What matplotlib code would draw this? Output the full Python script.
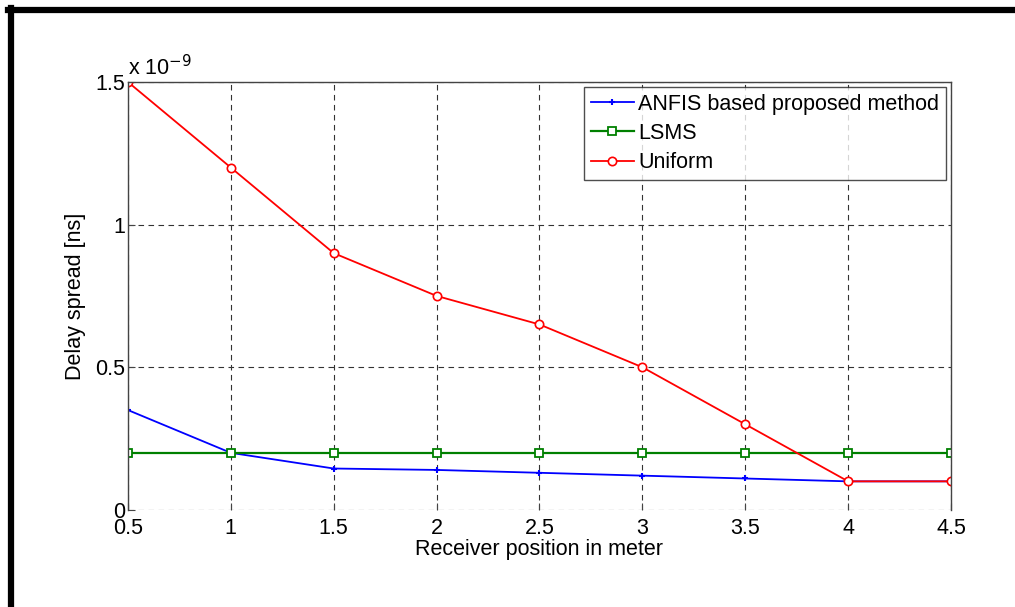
import numpy as np
import matplotlib
matplotlib.use('Agg')
import matplotlib.pyplot as plt
from matplotlib.lines import Line2D

plt.rcParams['font.family'] = ['Liberation Sans', 'DejaVu Sans']

# receiver positions (m) and delay spread values (x 1e-9)
positions = [0.5, 1, 1.5, 2, 2.5, 3, 3.5, 4, 4.5]
anfis = [0.35, 0.2, 0.145, 0.14, 0.13, 0.12, 0.11, 0.1, 0.1]
lsms = [0.2, 0.2, 0.2, 0.2, 0.2, 0.2, 0.2, 0.2, 0.2]
uniform = [1.5, 1.2, 0.9, 0.75, 0.65, 0.5, 0.3, 0.1, 0.1]

xticks = [0.5, 1, 1.5, 2, 2.5, 3, 3.5, 4, 4.5]
xticklabels = ['0.5', '1', '1.5', '2', '2.5', '3', '3.5', '4', '4.5']
yticks = [0, 0.5, 1, 1.5]
yticklabels = ['0', '0.5', '1', '1.5']

fs = 15.5

fig = plt.figure(figsize=(10.15, 6.07), dpi=100)
ax = fig.add_axes([0.126, 0.160, 0.811, 0.705])

ax.plot(positions, anfis, color='#0000ff', marker='+', markersize=5, mew=1.5,
        lw=1.3, label='ANFIS based proposed method')
ax.plot(positions, lsms, color='#008000', marker='s', markersize=6, mfc='white',
        mew=1.3, lw=1.6, label='LSMS')
ax.plot(positions, uniform, color='#ff0000', marker='o', markersize=6, mfc='white',
        mew=1.2, lw=1.3, label='Uniform')

ax.set_xlim(0.5, 4.5)
ax.set_ylim(0, 1.5)
ax.set_xticks(xticks)
ax.set_xticklabels(xticklabels)
ax.set_yticks(yticks)
ax.set_yticklabels(yticklabels)
ax.tick_params(direction='in', labelsize=fs, length=5, color='#444444',
               right=False, top=False)
ax.tick_params(axis='x', pad=6)
ax.tick_params(axis='y', pad=2)
ax.grid(True, color='#333333', linestyle=(0, (5, 4)), linewidth=0.8)
for side in ['left', 'right', 'top']:
    ax.spines[side].set_color('#444444')
    ax.spines[side].set_linewidth(1.0)
ax.spines['bottom'].set_visible(False)

ax.set_xlabel('Receiver position in meter', fontsize=fs, va='center')
ax.set_ylabel('Delay spread [ns]', fontsize=fs, va='center')
ax.xaxis.set_label_coords(0.5, -0.092)
ax.yaxis.set_label_coords(-0.064, 0.5)
ax.text(0.0, 1.003, r'x 10$^{-9}$', transform=ax.transAxes, fontsize=fs,
        ha='left', va='bottom')

leg = ax.legend(loc='upper right', fontsize=fs, frameon=True, fancybox=False,
                edgecolor='#222222', borderaxespad=0.25, handlelength=2.0,
                handletextpad=0.2, labelspacing=0.38, borderpad=0.3)
leg.get_frame().set_linewidth(1.0)

# thick black frame on top and left
fig.add_artist(Line2D([0.008, 1.0], [0.983, 0.983], transform=fig.transFigure,
                      color='black', lw=4.5))
fig.add_artist(Line2D([0.011, 0.011], [0.0, 0.986], transform=fig.transFigure,
                      color='black', lw=4.5))

fig.savefig('out.png', dpi=100)
